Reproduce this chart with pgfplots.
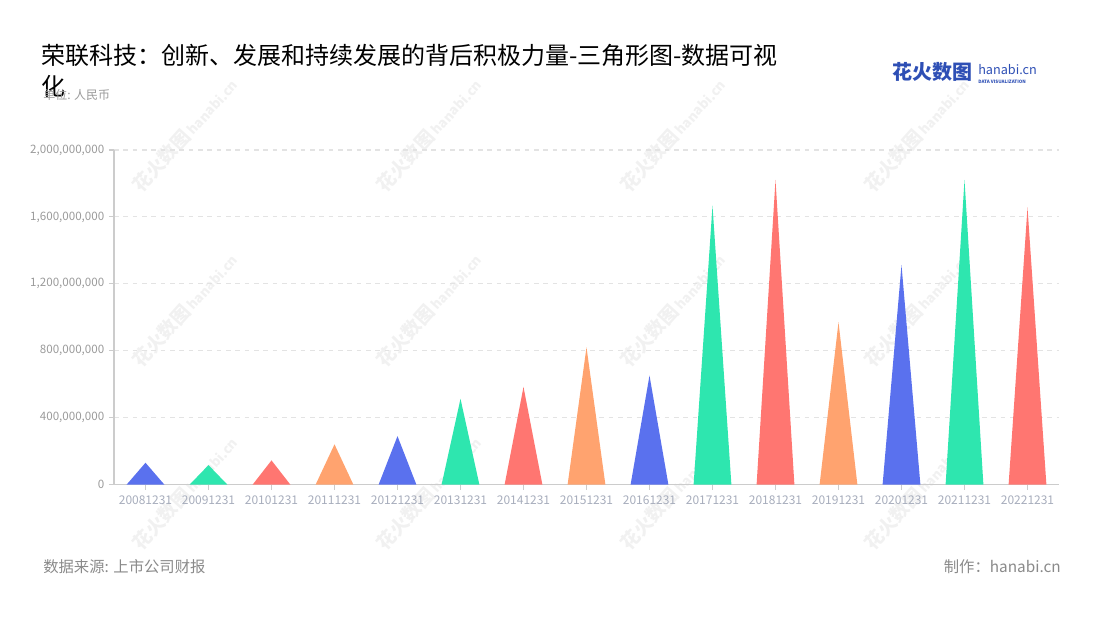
\documentclass[border=0pt]{standalone}
\usepackage{fontspec}
\setmainfont{Noto Sans CJK SC}
\usepackage{pgfplots}
\pgfplotsset{compat=1.18}
\definecolor{cblue}{HTML}{5A71EE}
\definecolor{cgreen}{HTML}{2EE6AF}
\definecolor{cred}{HTML}{FF7671}
\definecolor{corange}{HTML}{FFA36F}
\definecolor{axgray}{HTML}{CCCCCC}
\definecolor{gridgray}{HTML}{E3E3E3}
\definecolor{ytxt}{HTML}{9A9A9A}
\definecolor{xtxt}{HTML}{A7ADBC}
\definecolor{foot}{HTML}{8A8A8A}
\definecolor{logoblue}{HTML}{2E4FB5}
\definecolor{wm}{HTML}{F1F1F1}
\begin{document}
\begin{tikzpicture}[x=0.75pt,y=0.75pt]
\useasboundingbox (0,0) rectangle (1100,620);
% watermarks
\foreach \cx in {185,429,673,917}{
  \foreach \cy in {135,310,493}{
    \node[rotate=48,text=wm,inner sep=0pt] at (\cx,620-\cy) {\fontsize{14pt}{14pt}\selectfont\bfseries 花火数图\,\fontsize{10pt}{10pt}\selectfont hanabi.cn};
  }
}
\begin{axis}[
  at={(85.5pt,101.5pt)}, anchor=south west,
  width=708.75pt, height=251pt, scale only axis,
  xmin=-0.5, xmax=14.5, ymin=0, ymax=2e9,
  scaled y ticks=false,
  xtick={0,1,2,3,4,5,6,7,8,9,10,11,12,13,14},
  xticklabels={20081231,20091231,20101231,20111231,20121231,20131231,20141231,20151231,20161231,20171231,20181231,20191231,20201231,20211231,20221231},
  ytick={0,4e8,8e8,1.2e9,1.6e9,2e9},
  yticklabels={0,{400,000,000},{800,000,000},{1,200,000,000},{1,600,000,000},{2,000,000,000}},
  axis x line*=bottom, axis y line*=left,
  axis line style={draw=axgray, line width=1.1pt, -},
  tick align=outside, major tick length=3.75pt,
  tick style={draw=axgray, line width=0.8pt},
  ymajorgrids, grid style={dash pattern=on 3.5pt off 3.5pt, draw=gridgray, line width=0.8pt},
  xticklabel style={font=\fontsize{9pt}{9pt}\selectfont, text=xtxt, yshift=-1pt},
  yticklabel style={font=\fontsize{8.7pt}{9pt}\selectfont, text=ytxt},
  clip=false,
]
\addplot[fill=cblue, draw=none]   coordinates {(-0.3,0) (0,1.31e8) (0.3,0)} \closedcycle;
\addplot[fill=cgreen, draw=none]  coordinates {(0.7,0) (1,1.17e8) (1.3,0)} \closedcycle;
\addplot[fill=cred, draw=none]    coordinates {(1.7,0) (2,1.45e8) (2.3,0)} \closedcycle;
\addplot[fill=corange, draw=none] coordinates {(2.7,0) (3,2.41e8) (3.3,0)} \closedcycle;
\addplot[fill=cblue, draw=none]   coordinates {(3.7,0) (4,2.90e8) (4.3,0)} \closedcycle;
\addplot[fill=cgreen, draw=none]  coordinates {(4.7,0) (5,5.13e8) (5.3,0)} \closedcycle;
\addplot[fill=cred, draw=none]    coordinates {(5.7,0) (6,5.84e8) (6.3,0)} \closedcycle;
\addplot[fill=corange, draw=none] coordinates {(6.7,0) (7,8.21e8) (7.3,0)} \closedcycle;
\addplot[fill=cblue, draw=none]   coordinates {(7.7,0) (8,6.52e8) (8.3,0)} \closedcycle;
\addplot[fill=cgreen, draw=none]  coordinates {(8.7,0) (9,1.667e9) (9.3,0)} \closedcycle;
\addplot[fill=cred, draw=none]    coordinates {(9.7,0) (10,1.821e9) (10.3,0)} \closedcycle;
\addplot[fill=corange, draw=none] coordinates {(10.7,0) (11,9.71e8) (11.3,0)} \closedcycle;
\addplot[fill=cblue, draw=none]   coordinates {(11.7,0) (12,1.313e9) (12.3,0)} \closedcycle;
\addplot[fill=cgreen, draw=none]  coordinates {(12.7,0) (13,1.821e9) (13.3,0)} \closedcycle;
\addplot[fill=cred, draw=none]    coordinates {(13.7,0) (14,1.657e9) (14.3,0)} \closedcycle;
\end{axis}
% title
\node[anchor=base west, inner sep=0pt] at (41,620-65) {\fontsize{18pt}{20pt}\selectfont 荣联科技：创新、发展和持续发展的背后积极力量-三角形图-数据可视};
\node[anchor=base west, inner sep=0pt] at (41,620-96) {\fontsize{18pt}{20pt}\selectfont 化};
\node[anchor=base west, inner sep=0pt, text=ytxt] at (43,620-100) {\fontsize{9pt}{10pt}\selectfont 单位: 人民币};
% logo
\node[anchor=base west, inner sep=0pt, text=logoblue] at (892,620-80) {\fontsize{15pt}{15pt}\selectfont\bfseries 花火数图};
\node[anchor=base west, inner sep=0pt, text=logoblue] at (978,620-74.5) {\fontsize{9.5pt}{10pt}\selectfont hanabi.cn};
\node[anchor=base west, inner sep=0pt, text=logoblue] at (978,620-83.5) {\fontsize{3.4pt}{4pt}\selectfont\bfseries DATA VISUALIZATION};
% footer
\node[anchor=base west, inner sep=0pt, text=foot] at (43,620-573) {\fontsize{11.5pt}{12pt}\selectfont 数据来源: 上市公司财报};
\node[anchor=base east, inner sep=0pt, text=foot] at (1061,620-573) {\fontsize{11.5pt}{12pt}\selectfont 制作：hanabi.cn};
\end{tikzpicture}
\end{document}
